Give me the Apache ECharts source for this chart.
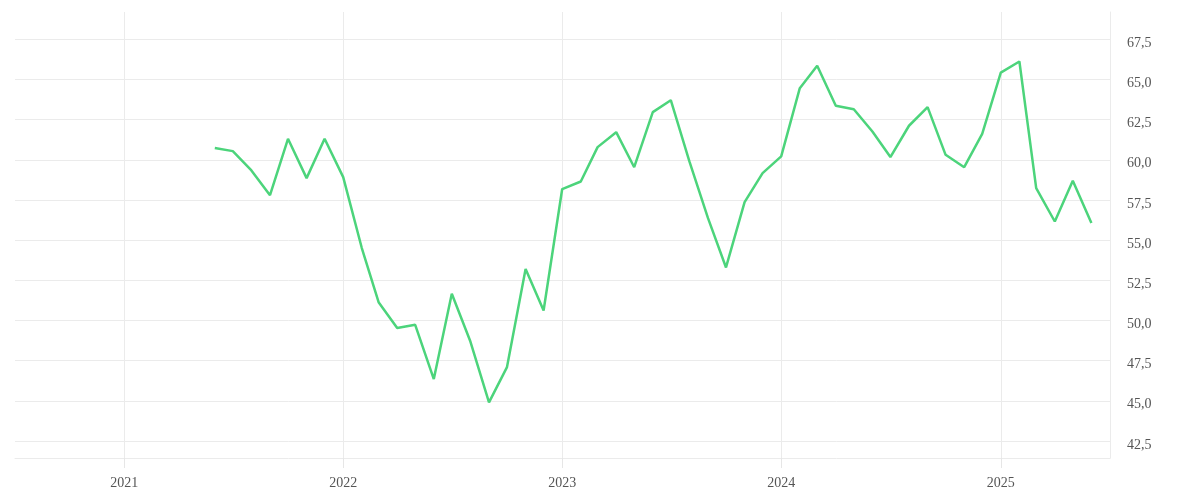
<!DOCTYPE html>
<html>
<head>
<meta charset="utf-8">
<script src="https://cdn.jsdelivr.net/npm/echarts@6/dist/echarts.min.js"></script>
<style>html,body{margin:0;padding:0;background:#fff}#c{width:1200px;height:500px}</style>
</head>
<body>
<div id="c"></div>
<script>
const months = [
  '2021-06-01','2021-07-01','2021-08-01','2021-09-01','2021-10-01','2021-11-01','2021-12-01',
  '2022-01-01','2022-02-01','2022-03-01','2022-04-01','2022-05-01','2022-06-01','2022-07-01','2022-08-01','2022-09-01','2022-10-01','2022-11-01','2022-12-01',
  '2023-01-01','2023-02-01','2023-03-01','2023-04-01','2023-05-01','2023-06-01','2023-07-01','2023-08-01','2023-09-01','2023-10-01','2023-11-01','2023-12-01',
  '2024-01-01','2024-02-01','2024-03-01','2024-04-01','2024-05-01','2024-06-01','2024-07-01','2024-08-01','2024-09-01','2024-10-01','2024-11-01','2024-12-01',
  '2025-01-01','2025-02-01','2025-03-01','2025-04-01','2025-05-01','2025-06-01'
];
const values = [
  60.73, 60.54, 59.34, 57.80, 61.31, 58.86, 61.31,
  58.92, 54.51, 51.14, 49.53, 49.73, 46.35, 51.66, 48.69, 44.90, 47.10, 53.20, 50.62,
  58.18, 58.65, 60.79, 61.72, 59.54, 62.97, 63.71, 59.90, 56.37, 53.30, 57.37, 59.17,
  60.21, 64.46, 65.85, 63.36, 63.15, 61.76, 60.17, 62.12, 63.28, 60.31, 59.54, 61.62,
  65.43, 66.12, 58.24, 56.16, 58.69, 56.06
];
const yearTicks = ['2021-01-01','2022-01-01','2023-01-01','2024-01-01','2025-01-01'];
const yTicks = [42.5, 45, 47.5, 50, 52.5, 55, 57.5, 60, 62.5, 65, 67.5];

const ts = d => +new Date(d + 'T00:00:00');
const yearTs = yearTicks.map(ts);

const chart = echarts.init(document.getElementById('c'), null, {renderer: 'canvas'});
const grid = '#ebebeb';
const textStyle = {color: '#555', fontFamily: 'Liberation Serif', fontSize: 14};
chart.setOption({
  animation: false,
  grid: {left: 15, right: 90, top: 12, bottom: 42, containLabel: false},
  xAxis: {
    type: 'value',
    min: ts('2020-07-03'),
    max: ts('2025-07-02'),
    axisLine: {show: true, lineStyle: {color: grid}},
    axisTick: {show: true, inside: false, length: 10, lineStyle: {color: '#e6e6e6', width: 1}, customValues: yearTs},
    axisLabel: Object.assign({margin: 18, customValues: yearTs,
      formatter: v => new Date(v).getFullYear() + ''}, textStyle),
    splitLine: {show: true, lineStyle: {color: grid}}
  },
  yAxis: {
    type: 'value',
    position: 'right',
    min: 41.44,
    max: 69.2,
    axisLine: {show: true, lineStyle: {color: grid}},
    axisTick: {show: false, customValues: yTicks},
    axisLabel: Object.assign({margin: 17, customValues: yTicks, verticalAlign: 'top', lineHeight: 8,
      formatter: v => v.toFixed(1).replace('.', ',')}, textStyle),
    splitLine: {show: true, lineStyle: {color: grid}}
  },
  series: [{
    type: 'line',
    data: months.map((m, i) => [ts(m), values[i]]),
    showSymbol: false,
    symbol: 'none',
    lineStyle: {color: '#4cd47b', width: 2.5},
    itemStyle: {color: '#4cd47b'}
  }]
});
</script>
</body>
</html>
